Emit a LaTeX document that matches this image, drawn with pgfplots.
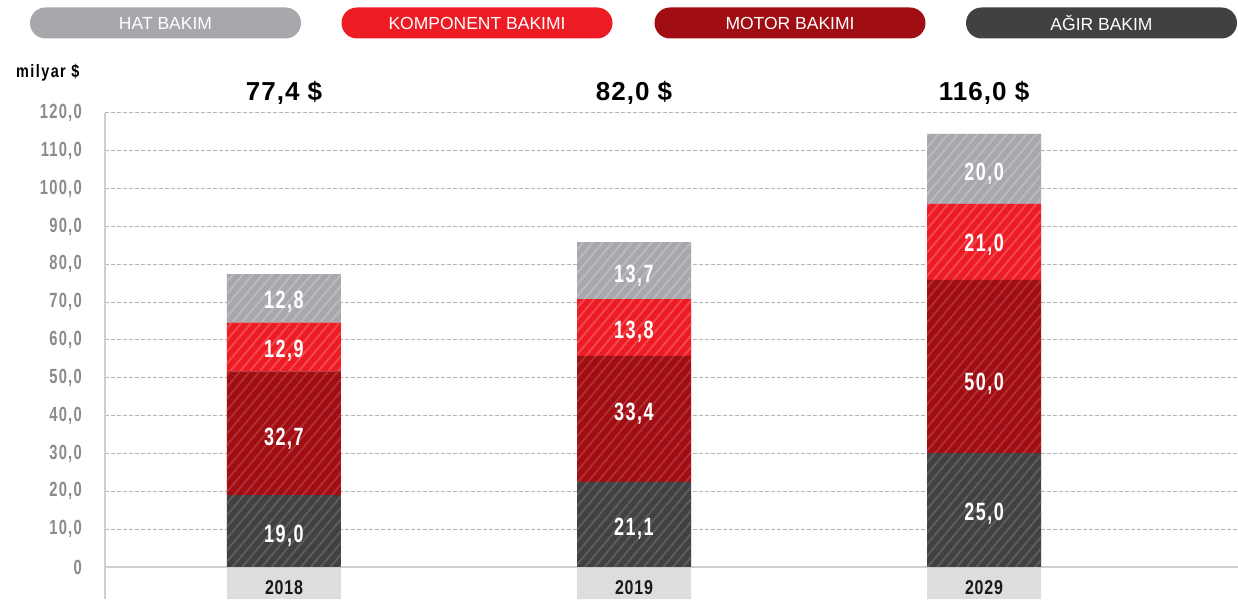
\documentclass[border=0pt]{standalone}
\usepackage{fontspec}
\setmainfont{Liberation Sans}
\newfontfamily\condfont[FakeStretch=0.72, LetterSpace=6]{Liberation Sans}
\newfontfamily\yearfont[FakeStretch=0.8, LetterSpace=4]{Liberation Sans}
\newfontfamily\totfont[LetterSpace=4]{Liberation Sans}
\newfontfamily\milfont[FakeStretch=0.8, LetterSpace=8]{Liberation Sans}
\usepackage{pgfplots}
\pgfplotsset{compat=1.18}
\usetikzlibrary{patterns.meta}

\definecolor{hat}{HTML}{A7A8AB}
\definecolor{komp}{HTML}{ED1C24}
\definecolor{motor}{HTML}{A00D12}
\definecolor{agir}{HTML}{414143}
\definecolor{hatS}{HTML}{B9BABD}
\definecolor{kompS}{HTML}{F2474E}
\definecolor{motorS}{HTML}{B12E33}
\definecolor{agirS}{HTML}{5C5C5E}
\definecolor{tickgray}{HTML}{8A8B8E}
\definecolor{gridgray}{HTML}{B4B4B6}
\definecolor{axisgray}{HTML}{CFCFD1}
\definecolor{boxgray}{HTML}{DCDDDF}

\pgfplotsset{
  base/.style={width=1133pt, height=486pt, scale only axis,
    xmin=-0.5114, xmax=2.7257, ymin=-8.46, ymax=120,
    at={(105pt,0pt)}, anchor=south west},
  seg/.style={draw=none, fill=#1, postaction={pattern={Lines[angle=50,distance=7.5pt,line width=2pt]}, pattern color=#1S}},
}

\begin{document}
\begin{tikzpicture}
\useasboundingbox (0,0) rectangle (1238pt,599pt);

% legend pills
\tikzset{pill/.style={fill=#1, rounded corners=15.5pt, minimum width=271pt, minimum height=31pt, inner sep=0pt, text=white, font=\fontsize{17.5}{18}\selectfont}}
\node[pill=hat]   at (165.5pt,576pt) {HAT BAKIM};
\node[pill=komp]  at (477pt,576pt)   {KOMPONENT BAKIMI};
\node[pill=motor] at (790pt,576pt)   {MOTOR BAKIMI};
\node[pill=agir]  at (1101.5pt,576pt){AĞIR BAKIM};

\node[anchor=base west, inner sep=0pt, font=\milfont\bfseries\fontsize{18}{18}\selectfont] at (16pt,521pt) {milyar \$};

% category boxes
\begin{axis}[base, hide axis]
\addplot[ybar, bar width=114pt, bar shift=0pt, fill=boxgray, draw=none] coordinates {(0,-8.46) (1,-8.46) (2,-8.46)};
\end{axis}

% main stacked bars
\begin{axis}[base,
  ybar stacked, bar width=114pt,
  axis y line*=left, axis x line*=bottom,
  x axis line style={draw=none},
  y axis line style={draw=axisgray, line width=2pt, -},
  xtick={0,1,2}, xticklabels={2018,2019,2029},
  ytick={10,20,...,120},
  yticklabels={{10,0},{20,0},{30,0},{40,0},{50,0},{60,0},{70,0},{80,0},{90,0},{100,0},{110,0},{120,0}},
  extra y ticks={0}, extra y tick labels={0},
  extra y tick style={grid style={solid, draw=axisgray, line width=2pt}},
  ymajorgrids,
  grid style={gridgray, line width=1pt, dash pattern=on 3.5pt off 2.5pt},
  major tick length=0pt, tick style={draw=none},
  yticklabel style={anchor=east, inner sep=0pt, xshift=-23pt, text=tickgray, font=\condfont\bfseries\fontsize{20.5}{21}\selectfont},
  xticklabel style={anchor=center, inner sep=0pt, yshift=11pt, text=black!90, font=\yearfont\bfseries\fontsize{20}{20}\selectfont},
]
\addplot[seg=agir]  coordinates {(0,19.0) (1,22.5) (2,30.1)};
\addplot[seg=motor] coordinates {(0,32.7) (1,33.3) (2,45.8)};
\addplot[seg=komp]  coordinates {(0,12.9) (1,15.0) (2,20.1)};
\addplot[seg=hat]   coordinates {(0,12.8) (1,15.1) (2,18.5)};
\end{axis}

% labels
\begin{axis}[base, hide axis, clip=false]
\addplot[draw=none, mark=none, nodes near coords, point meta=explicit symbolic,
  every node near coord/.append style={anchor=center, inner sep=0pt, text depth=0pt, text=white, font=\condfont\bfseries\fontsize{25}{25}\selectfont}]
  coordinates {
  (0,8.7) [19,0] (0,34.4) [32,7] (0,57.8) [12,9] (0,70.6) [12,8]
  (1,10.65) [21,1] (1,41.1) [33,4] (1,62.8) [13,8] (1,77.6) [13,7]
  (2,14.6) [25,0] (2,49.0) [50,0] (2,85.6) [21,0] (2,104.5) [20,0]
  };
\addplot[draw=none, mark=none, nodes near coords, point meta=explicit symbolic,
  every node near coord/.append style={anchor=center, inner sep=0pt, text depth=0pt, text=black, font=\totfont\bfseries\fontsize{26}{26}\selectfont}]
  coordinates {(0,125.8) [77,4 \$] (1,125.8) [82,0 \$] (2,125.8) [116,0 \$]};
\end{axis}
\end{tikzpicture}
\end{document}
